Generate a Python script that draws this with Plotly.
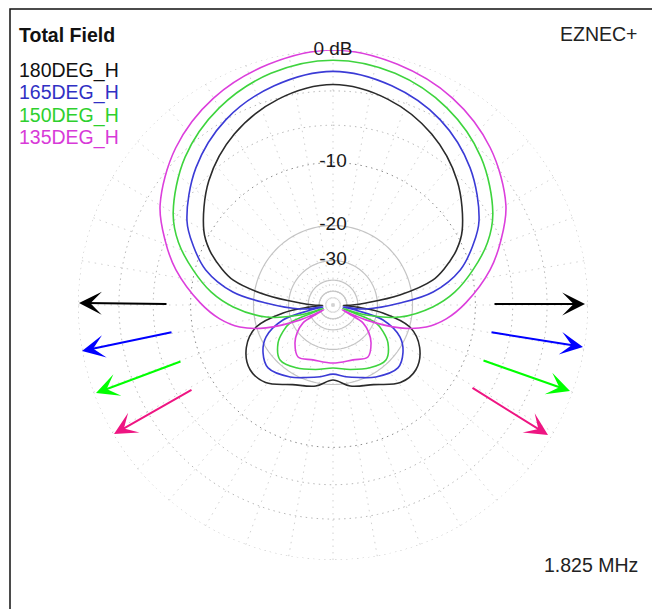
import plotly.graph_objects as go

# ---------------- data ----------------
# Angles in degrees measured clockwise from the top, right half of each (symmetric) pattern.
ANG_180 = [0, 15, 30, 45, 60, 66, 72, 76, 81.5, 86.5, 90, 92, 95, 99, 106, 116, 128, 139, 153, 168, 180]
DB_180 = [-2.5, -3.1, -4.4, -6.4, -9.2, -10.9, -13.4, -15.6, -22.8, -35, -44, -55, -40, -27.8, -19.9,
          -16.7, -15.2, -15.6, -18.0, -19.3, -21.0]

ANG_165 = [0, 15, 30, 45, 60, 67, 74.6, 82.6, 88.3, 96.9, 99, 101, 103, 106.7, 115.5, 124.4, 134.1,
           149.2, 160, 170, 180]
DB_165 = [-1.5, -2.0, -3.0, -4.7, -7.1, -8.9, -11.3, -15.9, -22.9, -35, -44, -55, -40, -27.2, -21.2,
          -18.9, -17.8, -19.1, -20.5, -21.5, -22.4]

ANG_150 = [0, 15, 30, 45, 60, 68, 76, 84, 91.1, 100.2, 106.9, 108.3, 109.5, 111, 112.7, 118, 124.6,
           136.1, 149.6, 165, 180]
DB_150 = [-0.7, -1.05, -1.95, -3.4, -5.55, -7.3, -9.8, -12.6, -16.1, -22.7, -34.3, -44, -55, -40, -29.2,
          -25.8, -23.0, -20.7, -21.5, -23.0, -24.0]

ANG_135 = [0, 15, 30, 45, 60, 69, 77.4, 89.1, 97, 103.3, 108.9, 114.4, 116, 117.5, 119, 121, 128, 135,
           146.1, 160, 180]
DB_135 = [0, -0.4, -1.12, -2.35, -4.2, -6.0, -7.9, -11.2, -13.8, -16.8, -22.0, -33.6, -44, -55, -44,
          -34.0, -29.5, -26.7, -24.1, -25.3, -25.4]

SERIES_NAMES = ["180DEG_H", "165DEG_H", "150DEG_H", "135DEG_H"]
RING_DOTTED_DB = [0, -3, -6, -10]
RING_SOLID_DB = [-20, -30, -40, -50]
RING_LABEL_DB = [0, -10, -20, -30]
RING_LABELS = ["0 dB", "-10", "-20", "-30"]
TITLE_TEXT = "Total Field"
BRAND_TEXT = "EZNEC+"
FREQ_TEXT = "1.825 MHz"

# ---------------- styles ----------------
TRACE_COLORS = ["#2b2b2b", "#3b3bd6", "#3ed43e", "#dc3fdc"]
LABEL_COLORS = ["#111111", "#3030c4", "#2ed02e", "#d83ad8"]
ARROW_COLORS = ["#000000", "#0000ff", "#00ff00", "#ee1582"]
FONT = "Liberation Sans, Arial, sans-serif"
PAGE_OFF = 8                      # browser body margin
W, H = 660 - PAGE_OFF, 609 - PAGE_OFF
CX, CY, R = 333 - PAGE_OFF, 305 - PAGE_OFF, 255

# arrows: (tail_x, tail_y, head_x, head_y) in window pixels, left side then right side
ARROWS_LEFT = [(168, 304, 79, 303), (173, 332, 82, 351), (182, 361, 96, 393), (193, 389, 114, 434)]
ARROWS_RIGHT = [(493, 304, 585, 304), (490, 332, 583, 347), (482, 360, 570, 391), (471, 387, 548, 435)]


def px(x):
    return (x - PAGE_OFF) / W


def py(y):
    return 1 - (y - PAGE_OFF) / H


def arrl(db):
    """ARRL log scale: radius shrinks to 0.89 for every 2 dB."""
    return 0.89 ** (-db / 2.0)


def mirror(ang, db):
    a = list(ang) + [360 - x for x in reversed(ang[:-1])]
    d = list(db) + list(reversed(db[:-1]))
    return a, d


fig = go.Figure()

ring_theta = list(range(0, 361, 2))
for lvl in RING_DOTTED_DB:
    fig.add_trace(go.Scatterpolar(
        r=[arrl(lvl)] * len(ring_theta), theta=ring_theta, mode="lines",
        line=dict(color="#8c8c8c" if lvl == -10 else "#b8b8b8", width=1, dash="1.5px,4px"),
        hoverinfo="skip", showlegend=False))
for lvl in RING_SOLID_DB:
    fig.add_trace(go.Scatterpolar(
        r=[arrl(lvl)] * len(ring_theta), theta=ring_theta, mode="lines",
        line=dict(color="#c4c4c4", width=1.2),
        hoverinfo="skip", showlegend=False))

series = [(ANG_180, DB_180), (ANG_165, DB_165), (ANG_150, DB_150), (ANG_135, DB_135)]
for (ang, db), name, col in zip(series, SERIES_NAMES, TRACE_COLORS):
    a, d = mirror(ang, db)
    fig.add_trace(go.Scatterpolar(
        r=[arrl(v) for v in d], theta=a, mode="lines", name=name,
        line=dict(color=col, width=1.6, shape="spline", smoothing=1.0), showlegend=False))

fig.add_trace(go.Scatterpolar(
    r=[arrl(v) for v in RING_LABEL_DB], theta=[0] * len(RING_LABEL_DB), mode="text",
    text=RING_LABELS, textposition="middle center",
    textfont=dict(family=FONT, size=19, color="#1a1a1a"),
    hoverinfo="skip", showlegend=False))

annotations = [
    dict(text="<b>" + TITLE_TEXT + "</b>", x=px(17), y=py(35), xref="paper", yref="paper",
         xanchor="left", yanchor="middle", showarrow=False,
         font=dict(family=FONT, size=19.5, color="#111111")),
    dict(text=BRAND_TEXT, x=px(639), y=py(34), xref="paper", yref="paper",
         xanchor="right", yanchor="middle", showarrow=False,
         font=dict(family=FONT, size=19.5, color="#222222")),
    dict(text=FREQ_TEXT, x=px(640), y=py(565), xref="paper", yref="paper",
         xanchor="right", yanchor="middle", showarrow=False,
         font=dict(family=FONT, size=19.5, color="#222222")),
]
for i, (name, col) in enumerate(zip(SERIES_NAMES, LABEL_COLORS)):
    annotations.append(dict(text=name, x=px(17), y=py(70 + 22.5 * i), xref="paper", yref="paper",
                            xanchor="left", yanchor="middle", showarrow=False,
                            font=dict(family=FONT, size=19.5, color=col)))
for arrows in (ARROWS_LEFT, ARROWS_RIGHT):
    for (tx, ty, hx, hy), col in zip(arrows, ARROW_COLORS):
        annotations.append(dict(text="", x=px(hx), y=py(hy), xref="paper", yref="paper",
                                ax=tx - hx, ay=ty - hy, axref="pixel", ayref="pixel",
                                showarrow=True, arrowhead=3, arrowsize=1.9, arrowwidth=2,
                                arrowcolor=col, standoff=0))

fig.update_layout(
    width=W, height=H, margin=dict(l=0, r=0, t=0, b=0),
    paper_bgcolor="white", plot_bgcolor="white",
    polar=dict(
        domain=dict(x=[(CX - R) / W, (CX + R) / W], y=[(H - CY - R) / H, (H - CY + R) / H]),
        bgcolor="white",
        radialaxis=dict(range=[0, 1], showgrid=False, showticklabels=False, ticks="", showline=False),
        angularaxis=dict(rotation=90, direction="clockwise", dtick=10, showgrid=True,
                         gridcolor="#d2d2d2", griddash="1.5px,5px", gridwidth=1,
                         showticklabels=False, ticks="", showline=False),
    ),
    annotations=annotations,
    shapes=[dict(type="rect", xref="paper", yref="paper", x0=px(10), x1=px(656),
                 y0=py(620), y1=py(9), line=dict(color="#111111", width=1.5))],
    showlegend=False,
)

fig.write_html("out.html")
